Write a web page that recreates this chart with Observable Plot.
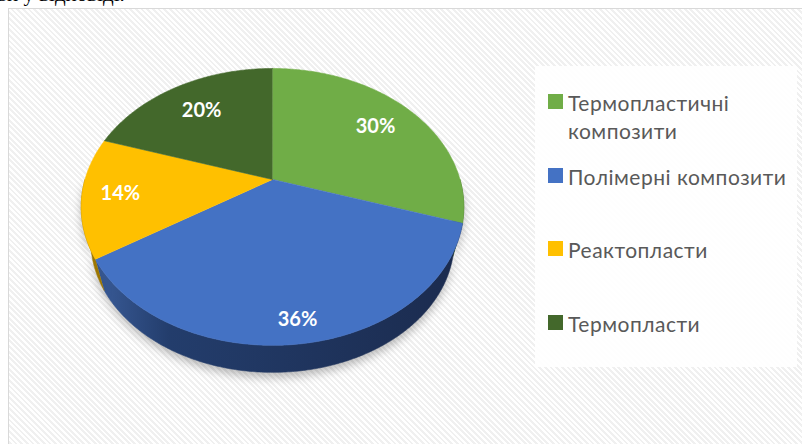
<!DOCTYPE html>
<html><head><meta charset="utf-8">
<script src="https://cdn.jsdelivr.net/npm/d3@7"></script>
<script src="https://cdn.jsdelivr.net/npm/@observablehq/plot@0.6"></script>
<style>
html,body{margin:0;padding:0;background:#fff;width:802px;height:444px;overflow:hidden;}
body{position:relative;}
#frame{position:absolute;left:8px;top:8px;width:820px;height:460px;border:1px solid #d9d9d9;
  background:repeating-linear-gradient(45deg,#ffffff 0 2px,#f0f0f0 2px 4px);}
#cut{position:absolute;left:-3px;top:-18px;font:21px "Liberation Serif",serif;color:#000;white-space:nowrap;}
#chart{position:absolute;left:0;top:0;}
#legend{position:absolute;left:535px;top:66px;width:262px;height:301px;background:rgba(255,255,255,0.93);
  font-family:Lato,"Noto Sans",sans-serif;font-size:21px;letter-spacing:0.5px;color:#595959;box-sizing:border-box;padding-top:23px;}
.item{position:relative;height:73.5px;line-height:28px;}
.sw{position:absolute;left:13px;top:5px;width:15px;height:15px;}
.lt{position:absolute;left:33px;top:0;width:229px;}
</style></head>
<body>
<div id="frame"></div>
<div id="cut">ви у відповіді.</div>
<div id="chart"></div>
<div id="legend"></div>
<script>
const categories = ["Термопластичні композити", "Полімерні композити", "Реактопласти", "Термопласти"];
const values = [30, 36, 14, 20];
const labels = ["30%", "36%", "14%", "20%"];
const colors = ["#70ad47", "#4472c4", "#ffc000", "#43682b"];
const sideColors = ["#3f6227", "url(#sideBlue)", "#9c7600", "#2b4419"];

// perspective tilt parameters
const K = 0.198, SHRINK = 0.05, DROP = 0.2655;
function proj(t, r, down) {
  const X = r * Math.sin(t), Y = r * Math.cos(t), w = 1 + K * Y;
  const u = X / w, v = Y / w;
  return down ? [u * (1 - SHRINK), v * (1 - SHRINK) - DROP] : [u, v];
}
const arcs = d3.pie().sort(null).value(d => d)(values);

function arcPts(a, b, down) {
  const n = Math.max(2, Math.ceil(Math.abs(b - a) / 0.01));
  const out = [];
  for (let j = 0; j <= n; j++) out.push(proj(a + (b - a) * j / n, 1, down));
  return out;
}
const frontStart = Math.PI / 2, frontEnd = 3 * Math.PI / 2;
const topRows = [], sideRows = [], labelRows = [];
arcs.forEach((p, i) => {
  topRows.push({id: i, x: 0, y: 0});
  for (const [x, y] of arcPts(p.startAngle, p.endAngle, false)) topRows.push({id: i, x, y});
  const s = Math.max(p.startAngle, frontStart), e = Math.min(p.endAngle, frontEnd);
  if (s < e) {
    for (const [x, y] of arcPts(s, e, false)) sideRows.push({id: i, x, y});
    for (const [x, y] of arcPts(e, s, true)) sideRows.push({id: i, x, y});
  }
  const mid = (p.startAngle + p.endAngle) / 2;
  const r = 0.7 + 0.18 * (1 - Math.cos(mid)) / 2;
  const [lx, ly] = proj(mid, r, false);
  labelRows.push({x: lx, y: ly, text: labels[i]});
});

const sideMarks = categories.map((c, i) =>
  Plot.line(sideRows.filter(d => d.id === i), {x: "x", y: "y", fill: sideColors[i], stroke: sideColors[i], strokeWidth: 0.6}));
const topMarks = categories.map((c, i) =>
  Plot.line(topRows.filter(d => d.id === i), {x: "x", y: "y", fill: colors[i], stroke: colors[i], strokeWidth: 0.6}));

const plot = Plot.plot({
  width: 802, height: 444, margin: 0,
  style: {background: "transparent", overflow: "visible"},
  x: {domain: [-272 / 187.5, 530 / 187.5], range: [0, 802], axis: null},
  y: {domain: [-265 / 133, 179 / 133], range: [444, 0], axis: null},
  marks: [
    ...sideMarks,
    ...topMarks,
    Plot.text(labelRows, {x: "x", y: "y", text: "text", fill: "white", fontSize: 20, fontWeight: "bold", fontFamily: "Lato, sans-serif"})
  ]
});
d3.select(plot).insert("defs", ":first-child").html(
  '<linearGradient id="sideBlue" x1="0" x2="1" y1="0" y2="0">' +
  '<stop offset="0" stop-color="#3a5c99"/><stop offset="0.2" stop-color="#233d6c"/>' +
  '<stop offset="1" stop-color="#1b2b4e"/></linearGradient>');
plot.querySelectorAll("g").forEach(g => {
  if (sideColors.includes(g.getAttribute("fill"))) g.style.filter = "drop-shadow(0px 5px 4px rgba(0,0,0,0.25))";
});
document.getElementById("chart").appendChild(plot);

const legend = d3.select("#legend");
categories.forEach((c, i) => {
  const it = legend.append("div").attr("class", "item");
  it.append("div").attr("class", "sw").style("background", colors[i]);
  it.append("div").attr("class", "lt").text(c);
});
</script>
</body></html>
